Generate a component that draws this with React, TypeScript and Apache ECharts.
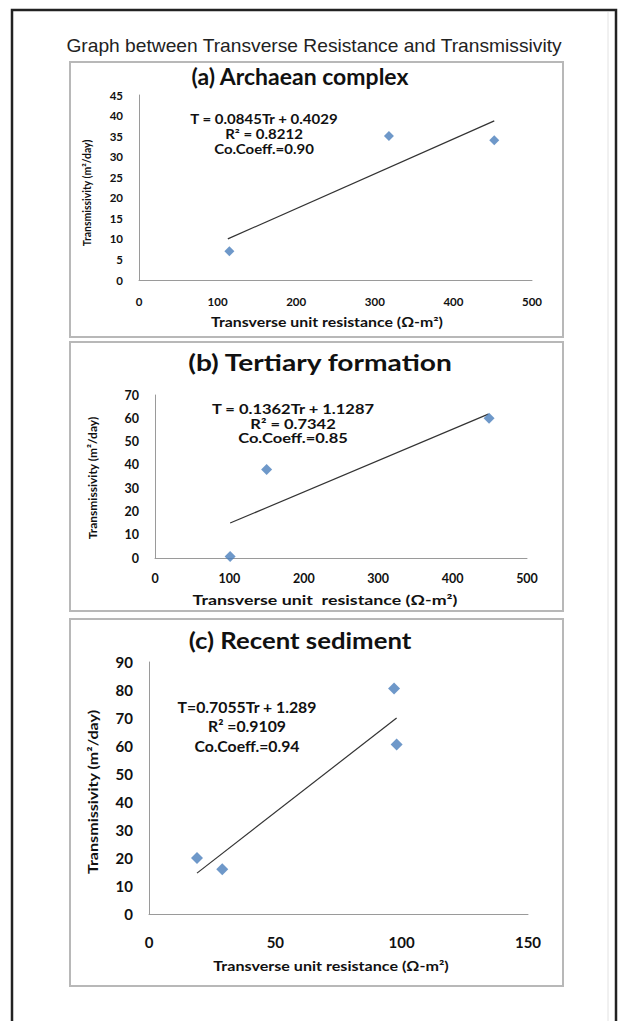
import React, { useEffect, useRef } from "react";
import * as echarts from "echarts";

// ---- Data ----
const archaeanX = [115, 318, 452];
const archaeanY = [7, 35, 34];
const archaeanTrendX = [113, 452];
const archaeanTrendY = [10.0, 38.7];

const tertiaryX = [101, 150, 449];
const tertiaryY = [0.6, 38, 60];
const tertiaryTrendX = [101, 448];
const tertiaryTrendY = [15.0, 61.8];

const recentX = [19, 29, 97, 98];
const recentY = [20, 16, 80.5, 60.5];
const recentTrendX = [19, 98];
const recentTrendY = [14.6, 70.0];

const panelTitles = ["(a) Archaean complex", "(b) Tertiary formation", "(c) Recent sediment"];
const eqA = ["T = 0.0845Tr + 0.4029", "R\u00B2 = 0.8212", "Co.Coeff.=0.90"];
const eqB = ["T = 0.1362Tr + 1.1287", "R\u00B2 = 0.7342", "Co.Coeff.=0.85"];
const eqC = ["T=0.7055Tr + 1.289", "R\u00B2 =0.9109", "Co.Coeff.=0.94"];
const mainTitle = "Graph between Transverse Resistance and Transmissivity";
const xTitle = "Transverse unit resistance (\u03A9-m\u00B2)";
const xTitleB = "Transverse unit  resistance (\u03A9-m\u00B2)";
const yTitle = "Transmissivity (m\u00B2/day)";

const pairs = (xs: number[], ys: number[]) => xs.map((x, i) => [x, ys[i]]);

const FONT = "Lato, 'Noto Sans', sans-serif";
const BLUE = "#4A7EBB";

export default function App() {
  const ref = useRef<HTMLDivElement>(null);
  useEffect(() => {
    if (!ref.current) return;
    const chart = echarts.init(ref.current, null, { renderer: "svg" });

    const axisLabel = (size: number, margin: number) => ({
      color: "#111",
      fontFamily: FONT,
      fontWeight: "bold" as const,
      fontSize: size,
      margin,
    });
    const axisLine = { show: true, lineStyle: { color: "#9a9a9a", width: 1 } };

    const mkAxis = (idx: number, max: number, interval: number, size: number, margin: number) => ({
      type: "value",
      gridIndex: idx,
      min: 0,
      max,
      interval,
      axisLine,
      axisTick: { show: false },
      splitLine: { show: false },
      axisLabel: axisLabel(size, margin),
    });

    const scatter = (idx: number, data: number[][], size: number) => ({
      type: "scatter",
      xAxisIndex: idx,
      yAxisIndex: idx,
      data,
      symbol: "diamond",
      symbolSize: size,
      itemStyle: { color: BLUE },
      z: 3,
    });
    const trend = (idx: number, data: number[][]) => ({
      type: "line",
      xAxisIndex: idx,
      yAxisIndex: idx,
      data,
      symbol: "none",
      lineStyle: { color: "#333", width: 1.2 },
      z: 2,
    });

    const txt = (text: string, x: number, y: number, size: number, opts: any = {}) => ({
      type: "text",
      x,
      y,
      rotation: opts.rotation || 0,
      scaleX: opts.sx || 1,
      style: {
        text,
        x: 0,
        y: 0,
        fontSize: size,
        fontFamily: opts.family || FONT,
        fontWeight: opts.weight || "bold",
        fill: opts.fill || "#111",
        align: "center",
        verticalAlign: "middle",
      },
      z: 10,
    });

    const eqLines = (lines: string[], cx: number, y0: number, dy: number, size: number, sx: number) =>
      lines.map((l, i) => txt(l, cx, y0 + i * dy, size, { sx }));

    const panelRect = (x1: number, y1: number, x2: number, y2: number) => ({
      type: "rect",
      shape: { x: x1, y: y1, width: x2 - x1, height: y2 - y1 },
      style: { fill: "none", stroke: "#b8b8b8", lineWidth: 2 },
      z: 1,
    });

    chart.setOption({
      animation: false,
      backgroundColor: "#ffffff",
      grid: [
        { left: 139, top: 95, width: 393, height: 185 },
        { left: 155, top: 395, width: 372, height: 163 },
        { left: 149, top: 662, width: 379, height: 252 },
      ],
      xAxis: [
        mkAxis(0, 500, 100, 11.5, 15),
        mkAxis(1, 500, 100, 12.5, 14),
        mkAxis(2, 150, 50, 15, 20),
      ],
      yAxis: [
        mkAxis(0, 45, 5, 11.5, 16),
        mkAxis(1, 70, 10, 12.5, 16),
        mkAxis(2, 90, 10, 15, 16),
      ],
      series: [
        scatter(0, pairs(archaeanX, archaeanY), 10),
        trend(0, pairs(archaeanTrendX, archaeanTrendY)),
        scatter(1, pairs(tertiaryX, tertiaryY), 11),
        trend(1, pairs(tertiaryTrendX, tertiaryTrendY)),
        scatter(2, pairs(recentX, recentY), 12),
        trend(2, pairs(recentTrendX, recentTrendY)),
      ],
      graphic: [
        {
          type: "rect",
          shape: { x: 12, y: 10, width: 604, height: 1040 },
          style: { fill: "none", stroke: "#222", lineWidth: 2.5 },
          z: 1,
        },
        {
          type: "line",
          shape: { x1: 608, y1: 12, x2: 608, y2: 1021 },
          style: { stroke: "#e2e2e2", lineWidth: 1 },
          z: 1,
        },
        panelRect(70, 62, 563, 337),
        panelRect(70, 342, 563, 611),
        panelRect(70, 619, 563, 986),
        txt(mainTitle, 314, 46, 18, {
          family: "'Liberation Sans', Arial, sans-serif",
          weight: "normal",
          fill: "#222",
          sx: 1.067,
        }),
        txt(panelTitles[0], 300, 77, 22, { sx: 1.045 }),
        txt(panelTitles[1], 320, 362, 22, { sx: 1.28 }),
        txt(panelTitles[2], 300, 640, 23, { sx: 1.12 }),
        ...eqLines(eqA, 264, 119, 15, 12.5, 1.2),
        ...eqLines(eqB, 293, 409, 14.5, 13, 1.27),
        ...eqLines(eqC, 247, 707, 19.5, 14.5, 1.09),
        txt(xTitle, 327, 322, 12.5, { sx: 1.27 }),
        txt(xTitleB, 325, 599, 13.5, { sx: 1.32 }),
        txt(xTitle, 331, 965, 14, { sx: 1.15 }),
        txt(yTitle, 86, 193, 11, { rotation: Math.PI / 2, sx: 0.95 }),
        txt(yTitle, 92, 478, 12, { rotation: Math.PI / 2 }),
        txt(yTitle, 92, 792, 14, { rotation: Math.PI / 2, sx: 1.15 }),
      ],
    });

    return () => chart.dispose();
  }, []);

  return (
    <div
      ref={ref}
      style={{ position: "absolute", left: 0, top: 0, width: 618, height: 1021, background: "#fff" }}
    />
  );
}
